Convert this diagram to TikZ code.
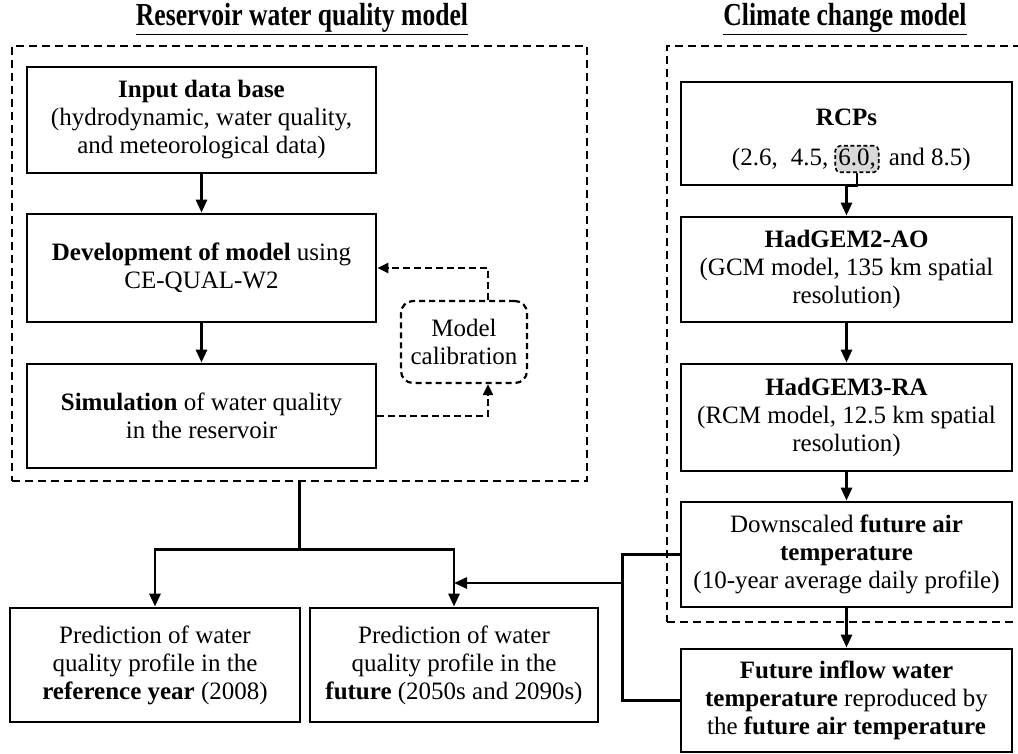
\documentclass[tikz,border=0pt]{standalone}
\usepackage{fontspec}
\setmainfont{Liberation Serif}
\usepackage{tikz}
\usetikzlibrary{arrows.meta,positioning}

\tikzset{
  box/.style={draw, line width=2.8pt, align=center, inner sep=0pt},
  frame/.style={draw, line width=2.6pt, dash pattern=on 8pt off 5pt},
  arr/.style={line width=2.8pt, -{Triangle[length=13pt,width=11pt]}},
  darr/.style={line width=2.4pt, dash pattern=on 7pt off 4pt, -{Triangle[length=11pt,width=10pt]}},
  ln/.style={line width=2.8pt},
  ttl/.style={font=\fontsize{32}{34}\selectfont\bfseries},
}

\begin{document}
\begin{tikzpicture}[x=1pt,y=-1pt,font=\fontsize{25}{28}\selectfont]
\useasboundingbox (0,0) rectangle (1018,754);

% titles
\node[ttl] (resttl) at (302,19) {\scalebox{0.8}[1]{\underline{Reservoir water quality model}}};
\node[ttl] (climttl) at (845,19) {\scalebox{0.8}[1]{\underline{Climate change model}}};

% dashed frames
\node[frame, minimum width=575pt, minimum height=435pt] (resframe) at (299.5,263.5) {};
\node[frame, minimum width=370pt, minimum height=576pt] (climframe) at (852,334) {};

% reservoir water quality model
\node[box, minimum width=349pt, minimum height=106pt] (input) at (201.5,120)
  {\textbf{Input data base}\\(hydrodynamic, water quality,\\and meteorological data)};
\node[box, minimum width=349pt, minimum height=108pt] (dev) at (201.5,268)
  {\textbf{Development of model} using\\CE-QUAL-W2};
\node[box, minimum width=349pt, minimum height=104pt] (sim) at (201.5,416)
  {\textbf{Simulation} of water quality\\in the reservoir};
\node[frame, line width=2.2pt, dash pattern=on 6pt off 4pt, rounded corners=12pt, align=center, minimum width=126pt, minimum height=82pt] (calib) at (464,342)
  {Model\\calibration};

\draw[arr] (input) -- (dev);
\draw[arr] (dev) -- (sim);
\draw[darr] ([xshift=24pt]calib.north) |- (dev.east);
\draw[darr] (sim.east) -| ([xshift=24pt]calib.south);

% predictions
\node[box, minimum width=290pt, minimum height=114pt] (predref) at (155,665)
  {Prediction of water\\quality profile in the\\\textbf{reference year} (2008)};
\node[box, minimum width=288pt, minimum height=114pt] (predfut) at (454,665)
  {Prediction of water\\quality profile in the\\\textbf{future} (2050s and 2090s)};

\draw[ln] (resframe.south) -- ++(0,67) coordinate (split);
\draw[arr] (split) -| (predref.north);
\draw[arr] (split) -| (predfut.north);

% climate change model
\node[box, minimum width=331pt, minimum height=103pt] (rcp) at (846.5,133.5) {};
\node (rcpttl) at (846.5,117) {\textbf{RCPs}};
\node[draw, fill=black!15, line width=1.6pt, dash pattern=on 4pt off 2.5pt, rounded corners=5pt, inner sep=3pt] (rcpsix) at (857,159) {6.0,};
\node[left=6pt of rcpsix, inner sep=0pt] (rcpleft) {(2.6,\hspace{13pt}4.5,};
\node[right=9pt of rcpsix, inner sep=0pt] (rcpright) {and 8.5)};

\node[box, minimum width=331pt, minimum height=105pt] (gcm) at (846.5,269.5)
  {\textbf{HadGEM2-AO}\\(GCM model, 135 km spatial\\resolution)};
\node[box, minimum width=331pt, minimum height=107pt] (rcm) at (846.5,417.5)
  {\textbf{HadGEM3-RA}\\(RCM model, 12.5 km spatial\\resolution)};
\node[box, minimum width=331pt, minimum height=105pt] (down) at (846.5,554.5)
  {Downscaled \textbf{future air}\\\textbf{temperature}\\(10-year average daily profile)};
\node[box, minimum width=331pt, minimum height=103pt] (inflow) at (846.5,700.5)
  {\textbf{Future inflow water}\\\textbf{temperature} reproduced by\\the \textbf{future air temperature}};

\draw[arr] (rcpsix.south) -- ++(0,13) -| (gcm.north);
\draw[arr] (gcm) -- (rcm);
\draw[arr] (rcm) -- (down);
\draw[arr] (down) -- (inflow);

% air temperature to future prediction
\draw[ln] (down.west) -- ++(-57,0) coordinate (jn) |- (inflow.west);
\coordinate (mix) at (jn |- 0,583);
\draw[arr] (mix) -- (mix -| predfut.north);
\end{tikzpicture}
\end{document}
